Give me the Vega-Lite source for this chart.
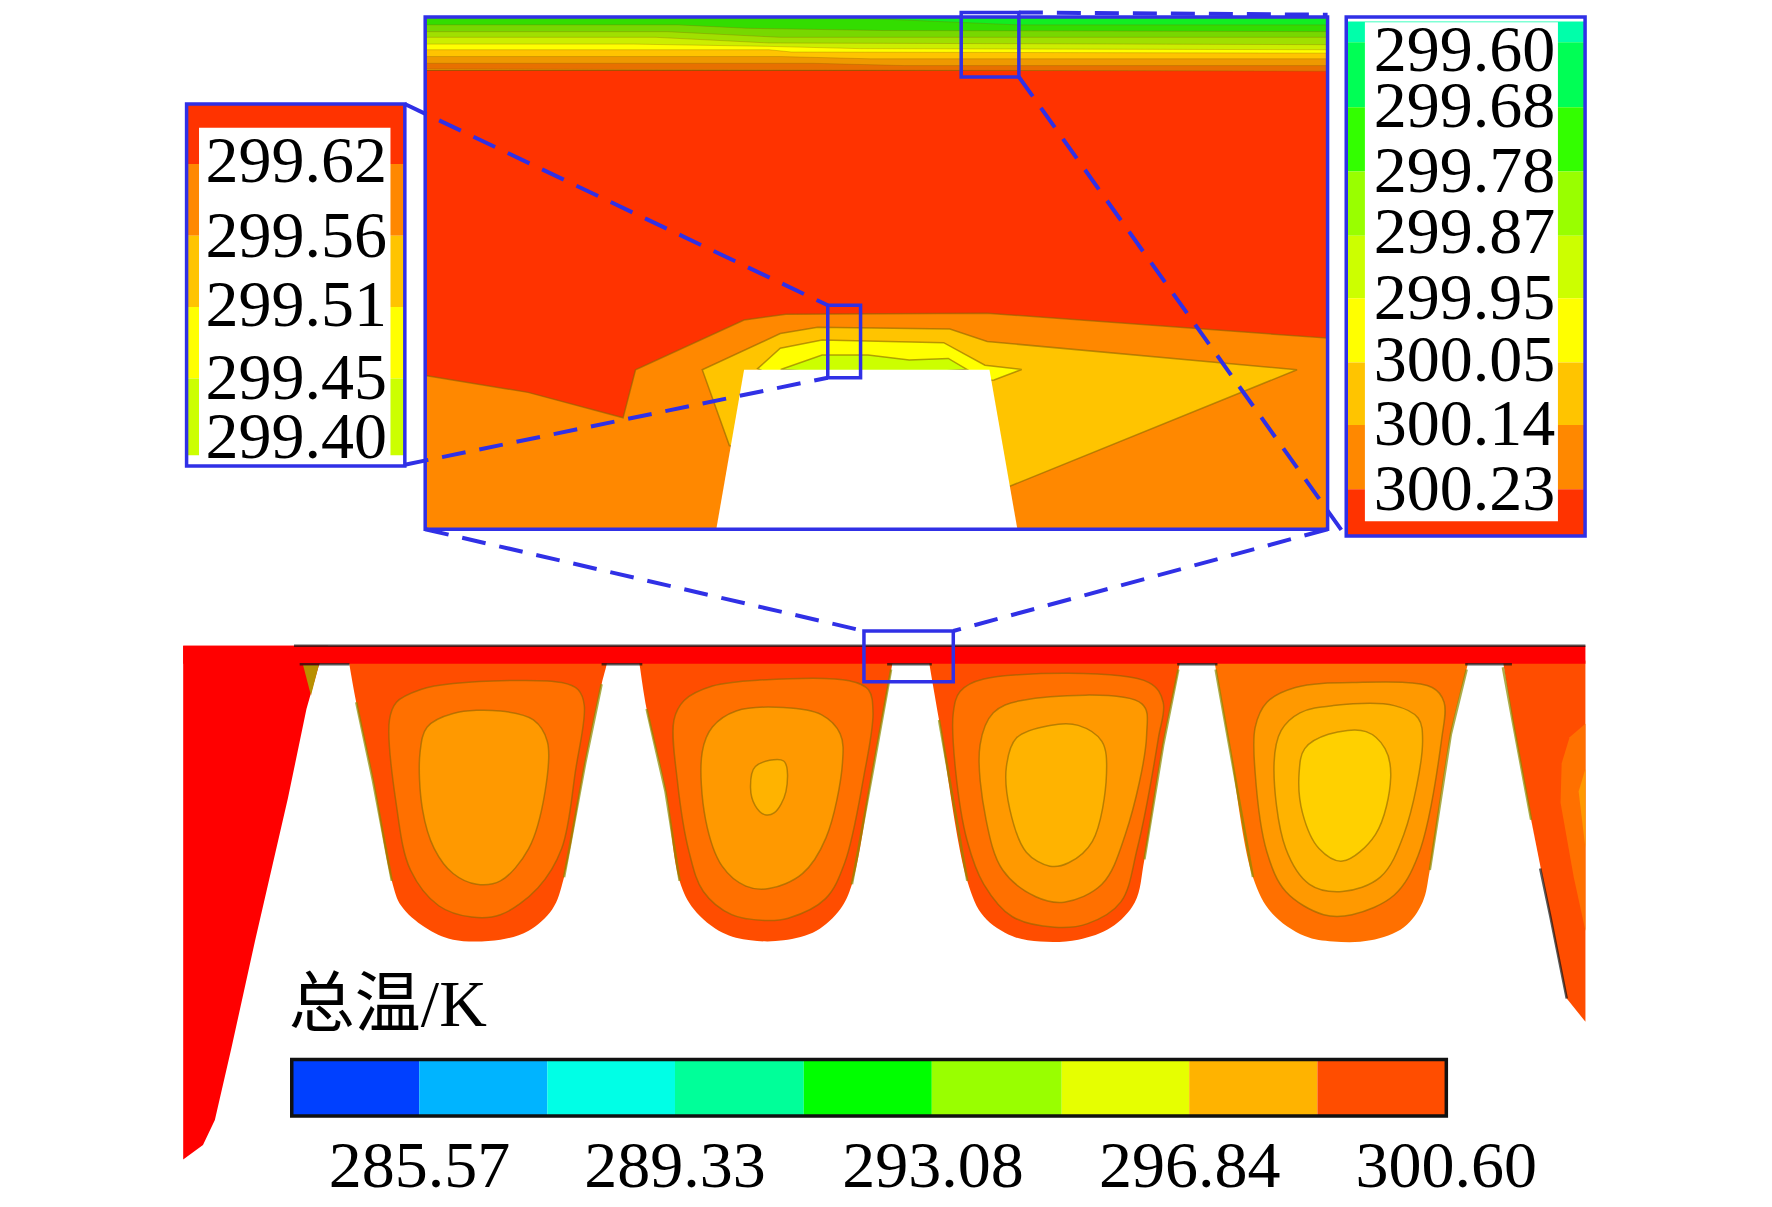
{
"$schema":"https://vega.github.io/schema/vega-lite/v6.json",
"width":1772,"height":1207,"padding":0,
"autosize":{"type":"fit","contains":"padding"},
"background":"white",
"config":{"view":{"stroke":null},"legend":{"disable":true}},
"datasets":{
"blocks":[
{"x":376,"x2":1174,"y":15,"y2":468,"level":"z300.32"},
{"x":165,"x2":358,"y":92,"y2":145,"level":"z300.32"},
{"x":165,"x2":358,"y":145,"y2":208.5,"level":"z300.23"},
{"x":165,"x2":358,"y":208.5,"y2":271.6,"level":"z300.14"},
{"x":165,"x2":358,"y":271.6,"y2":334.8,"level":"z300.05"},
{"x":165,"x2":358,"y":334.8,"y2":402.7,"level":"z299.95"},
{"x":176,"x2":345.3,"y":113,"y2":410.6,"level":"void"},
{"x":1190.5,"x2":1401.7,"y":19,"y2":37.3,"level":"z299.60"},
{"x":1190.5,"x2":1401.7,"y":37.3,"y2":94.8,"level":"z299.68"},
{"x":1190.5,"x2":1401.7,"y":94.8,"y2":151.6,"level":"z299.78"},
{"x":1190.5,"x2":1401.7,"y":151.6,"y2":208.5,"level":"z299.87"},
{"x":1190.5,"x2":1401.7,"y":208.5,"y2":263.7,"level":"z299.95"},
{"x":1190.5,"x2":1401.7,"y":263.7,"y2":320.6,"level":"z300.05"},
{"x":1190.5,"x2":1401.7,"y":320.6,"y2":375.9,"level":"z300.14"},
{"x":1190.5,"x2":1401.7,"y":375.9,"y2":432.7,"level":"z300.23"},
{"x":1190.5,"x2":1401.7,"y":432.7,"y2":474,"level":"z300.32"},
{"x":1207,"x2":1377.7,"y":19.6,"y2":461,"level":"void"},
{"x":258,"x2":370.7,"y":937,"y2":987,"level":"bar1"},
{"x":370.7,"x2":484,"y":937,"y2":987,"level":"bar2"},
{"x":484,"x2":596.9,"y":937,"y2":987,"level":"bar3"},
{"x":596.9,"x2":710.8,"y":937,"y2":987,"level":"bar4"},
{"x":710.8,"x2":824,"y":937,"y2":987,"level":"bar5"},
{"x":824,"x2":938.9,"y":937,"y2":987,"level":"bar6"},
{"x":938.9,"x2":1051.6,"y":937,"y2":987,"level":"bar7"},
{"x":1051.6,"x2":1165,"y":937,"y2":987,"level":"bar8"},
{"x":1165,"x2":1279,"y":937,"y2":987,"level":"bar9"}
],
"strata":[
{"shape":"t1","level":"g1","seq":0,"x":376,"y":16},{"shape":"t1","level":"g1","seq":1,"x":1174,"y":16},{"shape":"t1","level":"g1","seq":2,"x":1174,"y":62},{"shape":"t1","level":"g1","seq":3,"x":376,"y":62},
{"shape":"t0","level":"g0","seq":0,"x":760,"y":16},{"shape":"t0","level":"g0","seq":1,"x":1174,"y":16},{"shape":"t0","level":"g0","seq":2,"x":1174,"y":22},{"shape":"t0","level":"g0","seq":3,"x":900,"y":22},
{"shape":"t2","level":"g2","seq":0,"x":376,"y":22},{"shape":"t2","level":"g2","seq":1,"x":600,"y":22},{"shape":"t2","level":"g2","seq":2,"x":660,"y":25},{"shape":"t2","level":"g2","seq":3,"x":780,"y":27},{"shape":"t2","level":"g2","seq":4,"x":1174,"y":28},{"shape":"t2","level":"g2","seq":5,"x":1174,"y":62},{"shape":"t2","level":"g2","seq":6,"x":376,"y":62},
{"shape":"t3","level":"g3","seq":0,"x":376,"y":28},{"shape":"t3","level":"g3","seq":1,"x":590,"y":28},{"shape":"t3","level":"g3","seq":2,"x":690,"y":33},{"shape":"t3","level":"g3","seq":3,"x":1174,"y":33},{"shape":"t3","level":"g3","seq":4,"x":1174,"y":62},{"shape":"t3","level":"g3","seq":5,"x":376,"y":62},
{"shape":"t4","level":"g4","seq":0,"x":376,"y":33},{"shape":"t4","level":"g4","seq":1,"x":580,"y":33},{"shape":"t4","level":"g4","seq":2,"x":680,"y":38},{"shape":"t4","level":"g4","seq":3,"x":1174,"y":39.5},{"shape":"t4","level":"g4","seq":4,"x":1174,"y":62},{"shape":"t4","level":"g4","seq":5,"x":376,"y":62},
{"shape":"t5","level":"z300.05","seq":0,"x":376,"y":39},{"shape":"t5","level":"z300.05","seq":1,"x":560,"y":39},{"shape":"t5","level":"z300.05","seq":2,"x":680,"y":41},{"shape":"t5","level":"z300.05","seq":3,"x":760,"y":43},{"shape":"t5","level":"z300.05","seq":4,"x":1174,"y":44},{"shape":"t5","level":"z300.05","seq":5,"x":1174,"y":62},{"shape":"t5","level":"z300.05","seq":6,"x":376,"y":62},
{"shape":"t6","level":"z300.14","seq":0,"x":376,"y":44},{"shape":"t6","level":"z300.14","seq":1,"x":680,"y":44},{"shape":"t6","level":"z300.14","seq":2,"x":700,"y":46},{"shape":"t6","level":"z300.14","seq":3,"x":1174,"y":47},{"shape":"t6","level":"z300.14","seq":4,"x":1174,"y":62},{"shape":"t6","level":"z300.14","seq":5,"x":376,"y":62},
{"shape":"t7","level":"g7","seq":0,"x":376,"y":50},{"shape":"t7","level":"g7","seq":1,"x":690,"y":50},{"shape":"t7","level":"g7","seq":2,"x":770,"y":52},{"shape":"t7","level":"g7","seq":3,"x":1174,"y":52},{"shape":"t7","level":"g7","seq":4,"x":1174,"y":62},{"shape":"t7","level":"g7","seq":5,"x":376,"y":62},
{"shape":"t8","level":"g8","seq":0,"x":376,"y":56},{"shape":"t8","level":"g8","seq":1,"x":720,"y":56},{"shape":"t8","level":"g8","seq":2,"x":800,"y":58},{"shape":"t8","level":"g8","seq":3,"x":1174,"y":58},{"shape":"t8","level":"g8","seq":4,"x":1174,"y":63},{"shape":"t8","level":"g8","seq":5,"x":760,"y":62},{"shape":"t8","level":"g8","seq":6,"x":376,"y":61}
],
"contours":[
{"shape":"p1","level":"z300.23","seq":0,"x":376,"y":332},{"shape":"p1","level":"z300.23","seq":1,"x":467,"y":347},{"shape":"p1","level":"z300.23","seq":2,"x":551,"y":369.5},{"shape":"p1","level":"z300.23","seq":3,"x":562,"y":327},{"shape":"p1","level":"z300.23","seq":4,"x":658,"y":283},{"shape":"p1","level":"z300.23","seq":5,"x":695,"y":278},{"shape":"p1","level":"z300.23","seq":6,"x":873,"y":277},{"shape":"p1","level":"z300.23","seq":7,"x":1174,"y":299},{"shape":"p1","level":"z300.23","seq":8,"x":1174,"y":468},{"shape":"p1","level":"z300.23","seq":9,"x":376,"y":468},
{"shape":"p2","level":"z300.14","seq":0,"x":621,"y":327},{"shape":"p2","level":"z300.14","seq":1,"x":690,"y":295},{"shape":"p2","level":"z300.14","seq":2,"x":723,"y":289.5},{"shape":"p2","level":"z300.14","seq":3,"x":840,"y":291},{"shape":"p2","level":"z300.14","seq":4,"x":873,"y":302},{"shape":"p2","level":"z300.14","seq":5,"x":1147,"y":327},{"shape":"p2","level":"z300.14","seq":6,"x":893,"y":430},{"shape":"p2","level":"z300.14","seq":7,"x":780,"y":430},{"shape":"p2","level":"z300.14","seq":8,"x":645,"y":394},
{"shape":"p3","level":"z300.05","seq":0,"x":670,"y":326},{"shape":"p3","level":"z300.05","seq":1,"x":690,"y":308},{"shape":"p3","level":"z300.05","seq":2,"x":727,"y":300.7},{"shape":"p3","level":"z300.05","seq":3,"x":834.5,"y":303},{"shape":"p3","level":"z300.05","seq":4,"x":871,"y":323},{"shape":"p3","level":"z300.05","seq":5,"x":903.5,"y":326.7},{"shape":"p3","level":"z300.05","seq":6,"x":879,"y":336},{"shape":"p3","level":"z300.05","seq":7,"x":700,"y":340},
{"shape":"p4","level":"z299.95","seq":0,"x":690.4,"y":326.7},{"shape":"p4","level":"z299.95","seq":1,"x":727,"y":314},{"shape":"p4","level":"z299.95","seq":2,"x":767.6,"y":314},{"shape":"p4","level":"z299.95","seq":3,"x":804,"y":318.4},{"shape":"p4","level":"z299.95","seq":4,"x":838.6,"y":317},{"shape":"p4","level":"z299.95","seq":5,"x":855,"y":326.7},{"shape":"p4","level":"z299.95","seq":6,"x":770,"y":332}
],
"outlines":[
{"shape":"b1a","level":"hot1","seq":0,"x":307.5,"y":578},{"shape":"b1a","level":"hot1","seq":0.5,"x":309,"y":587.8},{"shape":"b1a","level":"hot1","seq":1,"x":315,"y":621},{"shape":"b1a","level":"hot1","seq":2,"x":329.8,"y":690.4},{"shape":"b1a","level":"hot1","seq":3,"x":346.5,"y":779},{"shape":"b1a","level":"hot1","seq":4,"x":354.8,"y":801},{"shape":"b1a","level":"hot1","seq":5,"x":375.7,"y":820},{"shape":"b1a","level":"hot1","seq":6,"x":400.7,"y":831},{"shape":"b1a","level":"hot1","seq":7,"x":442.5,"y":831},{"shape":"b1a","level":"hot1","seq":8,"x":467.5,"y":823},{"shape":"b1a","level":"hot1","seq":9,"x":488.4,"y":804},{"shape":"b1a","level":"hot1","seq":10,"x":498.8,"y":775.7},{"shape":"b1a","level":"hot1","seq":11,"x":517.6,"y":674.6},{"shape":"b1a","level":"hot1","seq":12,"x":532,"y":605},{"shape":"b1a","level":"hot1","seq":12.5,"x":536.4,"y":587.8},{"shape":"b1a","level":"hot1","seq":13,"x":538,"y":578},{"shape":"b1a","level":"hot1","seq":14,"x":525,"y":578},{"shape":"b1a","level":"hot1","seq":15,"x":320,"y":578},
{"shape":"b2a","level":"hot1","seq":0,"x":564,"y":578},{"shape":"b2a","level":"hot1","seq":0.5,"x":565.6,"y":587.8},{"shape":"b2a","level":"hot1","seq":1,"x":571.8,"y":627},{"shape":"b2a","level":"hot1","seq":2,"x":588.5,"y":700},{"shape":"b2a","level":"hot1","seq":3,"x":601,"y":779},{"shape":"b2a","level":"hot1","seq":4,"x":613.6,"y":804},{"shape":"b2a","level":"hot1","seq":5,"x":638.6,"y":824.7},{"shape":"b2a","level":"hot1","seq":6,"x":663.7,"y":831.6},{"shape":"b2a","level":"hot1","seq":7,"x":692.9,"y":831.6},{"shape":"b2a","level":"hot1","seq":8,"x":722,"y":823},{"shape":"b2a","level":"hot1","seq":9,"x":743,"y":804},{"shape":"b2a","level":"hot1","seq":10,"x":753.4,"y":782},{"shape":"b2a","level":"hot1","seq":11,"x":772,"y":681},{"shape":"b2a","level":"hot1","seq":11.5,"x":788.9,"y":587.8},{"shape":"b2a","level":"hot1","seq":12,"x":790.5,"y":578},{"shape":"b2a","level":"hot1","seq":13,"x":778,"y":578},{"shape":"b2a","level":"hot1","seq":14,"x":576,"y":578},
{"shape":"b3a","level":"hot1","seq":0,"x":820.5,"y":578},{"shape":"b3a","level":"hot1","seq":0.5,"x":822,"y":587.8},{"shape":"b3a","level":"hot1","seq":1,"x":830.4,"y":636.7},{"shape":"b3a","level":"hot1","seq":2,"x":855.4,"y":779},{"shape":"b3a","level":"hot1","seq":3,"x":870,"y":810.5},{"shape":"b3a","level":"hot1","seq":4,"x":895,"y":827.8},{"shape":"b3a","level":"hot1","seq":5,"x":920,"y":832.6},{"shape":"b3a","level":"hot1","seq":6,"x":953.5,"y":831},{"shape":"b3a","level":"hot1","seq":7,"x":982.7,"y":820},{"shape":"b3a","level":"hot1","seq":8,"x":1003.6,"y":797.8},{"shape":"b3a","level":"hot1","seq":9,"x":1012,"y":760},{"shape":"b3a","level":"hot1","seq":10,"x":1028.6,"y":659},{"shape":"b3a","level":"hot1","seq":10.5,"x":1043,"y":587.8},{"shape":"b3a","level":"hot1","seq":11,"x":1044.5,"y":578},{"shape":"b3a","level":"hot1","seq":12,"x":1032,"y":578},{"shape":"b3a","level":"hot1","seq":13,"x":833,"y":578},
{"shape":"b4a","level":"hot2","seq":0,"x":1073,"y":578},{"shape":"b4a","level":"hot2","seq":0.5,"x":1074.5,"y":587.8},{"shape":"b4a","level":"hot2","seq":1,"x":1087,"y":659},{"shape":"b4a","level":"hot2","seq":2,"x":1108,"y":775.7},{"shape":"b4a","level":"hot2","seq":3,"x":1124.6,"y":807.3},{"shape":"b4a","level":"hot2","seq":4,"x":1153.8,"y":827.8},{"shape":"b4a","level":"hot2","seq":5,"x":1179,"y":832.6},{"shape":"b4a","level":"hot2","seq":6,"x":1212,"y":831.6},{"shape":"b4a","level":"hot2","seq":7,"x":1241.5,"y":820},{"shape":"b4a","level":"hot2","seq":8,"x":1258,"y":797.8},{"shape":"b4a","level":"hot2","seq":9,"x":1264.4,"y":769.4},{"shape":"b4a","level":"hot2","seq":10,"x":1283,"y":649.4},{"shape":"b4a","level":"hot2","seq":10.5,"x":1297.8,"y":587.8},{"shape":"b4a","level":"hot2","seq":11,"x":1300,"y":578},{"shape":"b4a","level":"hot2","seq":12,"x":1288,"y":578},{"shape":"b4a","level":"hot2","seq":13,"x":1086,"y":578}
],
"ribbon":[
{"shape":"b5a","level":"hot1","seq":0,"x":1329,"y":584},{"shape":"b5a","level":"hot1","seq":1,"x":1402,"y":584},{"shape":"b5a","level":"hot1","seq":2,"x":1402,"y":903.6},{"shape":"b5a","level":"hot1","seq":3,"x":1385.5,"y":883},{"shape":"b5a","level":"hot1","seq":4,"x":1371,"y":810.5},{"shape":"b5a","level":"hot1","seq":5,"x":1354,"y":725},{"shape":"b5a","level":"hot1","seq":6,"x":1337.5,"y":636.7},
{"shape":"b5b","level":"hot2","seq":0,"x":1402,"y":640},{"shape":"b5b","level":"hot2","seq":1,"x":1388,"y":652},{"shape":"b5b","level":"hot2","seq":2,"x":1381,"y":675},{"shape":"b5b","level":"hot2","seq":3,"x":1380,"y":710},{"shape":"b5b","level":"hot2","seq":4,"x":1391.7,"y":775.7},{"shape":"b5b","level":"hot2","seq":5,"x":1402,"y":823},
{"shape":"b5c","level":"hot3","seq":0,"x":1402,"y":680},{"shape":"b5c","level":"hot3","seq":1,"x":1396,"y":700},{"shape":"b5c","level":"hot3","seq":2,"x":1402,"y":750},
{"shape":"wedge","level":"hot0","seq":0,"x":162,"y":571},{"shape":"wedge","level":"hot0","seq":1,"x":290,"y":571},{"shape":"wedge","level":"hot0","seq":2,"x":281.8,"y":589},{"shape":"wedge","level":"hot0","seq":3,"x":271,"y":627},{"shape":"wedge","level":"hot0","seq":4,"x":254.6,"y":706},{"shape":"wedge","level":"hot0","seq":5,"x":225.4,"y":832.6},{"shape":"wedge","level":"hot0","seq":6,"x":204.6,"y":927},{"shape":"wedge","level":"hot0","seq":7,"x":190,"y":990.5},{"shape":"wedge","level":"hot0","seq":8,"x":179.5,"y":1012.6},{"shape":"wedge","level":"hot0","seq":9,"x":162,"y":1025.3},
{"shape":"band","level":"hot0","seq":0,"x":162,"y":571},{"shape":"band","level":"hot0","seq":1,"x":1402,"y":571},{"shape":"band","level":"hot0","seq":2,"x":1402,"y":587},{"shape":"band","level":"hot0","seq":3,"x":162,"y":587},
{"shape":"tip","level":"tip","seq":0,"x":268,"y":588},{"shape":"tip","level":"tip","seq":1,"x":282,"y":588},{"shape":"tip","level":"tip","seq":2,"x":275,"y":615}
],
"isotherms":[
{"shape":"b1b","level":"hot2","seq":0,"x":344.4,"y":636.7},{"shape":"b1b","level":"hot2","seq":1,"x":350.6,"y":621},{"shape":"b1b","level":"hot2","seq":2,"x":371.5,"y":610},{"shape":"b1b","level":"hot2","seq":3,"x":400.7,"y":604.5},{"shape":"b1b","level":"hot2","seq":4,"x":496.7,"y":603.6},{"shape":"b1b","level":"hot2","seq":5,"x":511.3,"y":610},{"shape":"b1b","level":"hot2","seq":6,"x":516.7,"y":624},{"shape":"b1b","level":"hot2","seq":7,"x":509,"y":681},{"shape":"b1b","level":"hot2","seq":8,"x":496.7,"y":750.4},{"shape":"b1b","level":"hot2","seq":9,"x":475.8,"y":785},{"shape":"b1b","level":"hot2","seq":10,"x":442.5,"y":809},{"shape":"b1b","level":"hot2","seq":11,"x":417,"y":811},{"shape":"b1b","level":"hot2","seq":12,"x":388,"y":801},{"shape":"b1b","level":"hot2","seq":13,"x":363,"y":769.4},{"shape":"b1b","level":"hot2","seq":14,"x":350.6,"y":712.5},
{"shape":"b1c","level":"hot3","seq":0,"x":371.5,"y":665},{"shape":"b1c","level":"hot3","seq":1,"x":377.8,"y":643},{"shape":"b1c","level":"hot3","seq":2,"x":400.7,"y":631},{"shape":"b1c","level":"hot3","seq":3,"x":442.5,"y":628.8},{"shape":"b1c","level":"hot3","seq":4,"x":471.7,"y":636.7},{"shape":"b1c","level":"hot3","seq":5,"x":484,"y":655.7},{"shape":"b1c","level":"hot3","seq":6,"x":482,"y":700},{"shape":"b1c","level":"hot3","seq":7,"x":467.5,"y":750.4},{"shape":"b1c","level":"hot3","seq":8,"x":442.5,"y":779},{"shape":"b1c","level":"hot3","seq":9,"x":421.6,"y":782},{"shape":"b1c","level":"hot3","seq":10,"x":400.7,"y":772.5},{"shape":"b1c","level":"hot3","seq":11,"x":384,"y":750.4},{"shape":"b1c","level":"hot3","seq":12,"x":373.6,"y":715.7},
{"shape":"b2b","level":"hot2","seq":0,"x":596,"y":636.7},{"shape":"b2b","level":"hot2","seq":1,"x":605,"y":619.4},{"shape":"b2b","level":"hot2","seq":2,"x":630,"y":606.7},{"shape":"b2b","level":"hot2","seq":3,"x":672,"y":601.4},{"shape":"b2b","level":"hot2","seq":4,"x":751,"y":602},{"shape":"b2b","level":"hot2","seq":5,"x":768,"y":610},{"shape":"b2b","level":"hot2","seq":6,"x":772,"y":630.4},{"shape":"b2b","level":"hot2","seq":7,"x":763.8,"y":687},{"shape":"b2b","level":"hot2","seq":8,"x":747,"y":763},{"shape":"b2b","level":"hot2","seq":9,"x":730,"y":794.7},{"shape":"b2b","level":"hot2","seq":10,"x":697,"y":812},{"shape":"b2b","level":"hot2","seq":11,"x":676,"y":814},{"shape":"b2b","level":"hot2","seq":12,"x":647,"y":808.9},{"shape":"b2b","level":"hot2","seq":13,"x":622,"y":788.4},{"shape":"b2b","level":"hot2","seq":14,"x":609.4,"y":753.6},{"shape":"b2b","level":"hot2","seq":15,"x":599,"y":690.4},
{"shape":"b2c","level":"hot3","seq":0,"x":621,"y":665},{"shape":"b2c","level":"hot3","seq":1,"x":630,"y":643},{"shape":"b2c","level":"hot3","seq":2,"x":651,"y":628.8},{"shape":"b2c","level":"hot3","seq":3,"x":693,"y":625.7},{"shape":"b2c","level":"hot3","seq":4,"x":726.3,"y":632},{"shape":"b2c","level":"hot3","seq":5,"x":743,"y":649},{"shape":"b2c","level":"hot3","seq":6,"x":745,"y":674.6},{"shape":"b2c","level":"hot3","seq":7,"x":730.4,"y":741},{"shape":"b2c","level":"hot3","seq":8,"x":709.6,"y":772.6},{"shape":"b2c","level":"hot3","seq":9,"x":680,"y":785.8},{"shape":"b2c","level":"hot3","seq":10,"x":659.5,"y":783.6},{"shape":"b2c","level":"hot3","seq":11,"x":638.6,"y":766},{"shape":"b2c","level":"hot3","seq":12,"x":624,"y":725},
{"shape":"b2d","level":"hot4","seq":0,"x":663.7,"y":696.7},{"shape":"b2d","level":"hot4","seq":1,"x":668,"y":677.8},{"shape":"b2d","level":"hot4","seq":2,"x":693,"y":673},{"shape":"b2d","level":"hot4","seq":3,"x":695,"y":700},{"shape":"b2d","level":"hot4","seq":4,"x":684.5,"y":718.9},{"shape":"b2d","level":"hot4","seq":5,"x":676,"y":720.4},{"shape":"b2d","level":"hot4","seq":6,"x":667.8,"y":712.5},
{"shape":"b3b","level":"hot2","seq":0,"x":843,"y":630.4},{"shape":"b3b","level":"hot2","seq":1,"x":849,"y":611.5},{"shape":"b3b","level":"hot2","seq":2,"x":870,"y":600.4},{"shape":"b3b","level":"hot2","seq":3,"x":1016,"y":603.6},{"shape":"b3b","level":"hot2","seq":4,"x":1028.6,"y":621},{"shape":"b3b","level":"hot2","seq":5,"x":1024.4,"y":652.5},{"shape":"b3b","level":"hot2","seq":6,"x":1005.7,"y":750.4},{"shape":"b3b","level":"hot2","seq":7,"x":991,"y":797.8},{"shape":"b3b","level":"hot2","seq":8,"x":961.8,"y":816.8},{"shape":"b3b","level":"hot2","seq":9,"x":932.6,"y":820},{"shape":"b3b","level":"hot2","seq":10,"x":895,"y":810.5},{"shape":"b3b","level":"hot2","seq":11,"x":870,"y":782},{"shape":"b3b","level":"hot2","seq":12,"x":855.4,"y":744},{"shape":"b3b","level":"hot2","seq":13,"x":845,"y":681},
{"shape":"b3c","level":"hot3","seq":0,"x":866.7,"y":658.8},{"shape":"b3c","level":"hot3","seq":1,"x":878.4,"y":630.4},{"shape":"b3c","level":"hot3","seq":2,"x":903.4,"y":619.4},{"shape":"b3c","level":"hot3","seq":3,"x":1009.8,"y":622.5},{"shape":"b3c","level":"hot3","seq":4,"x":1014,"y":649.4},{"shape":"b3c","level":"hot3","seq":5,"x":995.2,"y":737.8},{"shape":"b3c","level":"hot3","seq":6,"x":974.4,"y":782},{"shape":"b3c","level":"hot3","seq":7,"x":941,"y":797.8},{"shape":"b3c","level":"hot3","seq":8,"x":916,"y":793},{"shape":"b3c","level":"hot3","seq":9,"x":886.7,"y":769.4},{"shape":"b3c","level":"hot3","seq":10,"x":872,"y":725},
{"shape":"b3d","level":"hot4","seq":0,"x":890,"y":677.8},{"shape":"b3d","level":"hot4","seq":1,"x":899,"y":652.5},{"shape":"b3d","level":"hot4","seq":2,"x":928.5,"y":641.5},{"shape":"b3d","level":"hot4","seq":3,"x":953.5,"y":641.5},{"shape":"b3d","level":"hot4","seq":4,"x":974.4,"y":655.7},{"shape":"b3d","level":"hot4","seq":5,"x":978.5,"y":684},{"shape":"b3d","level":"hot4","seq":6,"x":966,"y":744},{"shape":"b3d","level":"hot4","seq":7,"x":945,"y":763},{"shape":"b3d","level":"hot4","seq":8,"x":928.5,"y":766},{"shape":"b3d","level":"hot4","seq":9,"x":907.6,"y":753.6},{"shape":"b3d","level":"hot4","seq":10,"x":893,"y":715.7},
{"shape":"b4b","level":"hot3","seq":0,"x":1110,"y":643},{"shape":"b4b","level":"hot3","seq":1,"x":1120.4,"y":621},{"shape":"b4b","level":"hot3","seq":2,"x":1145.5,"y":608},{"shape":"b4b","level":"hot3","seq":3,"x":1195.6,"y":603.6},{"shape":"b4b","level":"hot3","seq":4,"x":1266.5,"y":608},{"shape":"b4b","level":"hot3","seq":5,"x":1277,"y":621},{"shape":"b4b","level":"hot3","seq":6,"x":1275,"y":652.5},{"shape":"b4b","level":"hot3","seq":7,"x":1254,"y":756.8},{"shape":"b4b","level":"hot3","seq":8,"x":1233,"y":791.5},{"shape":"b4b","level":"hot3","seq":9,"x":1195.6,"y":808.9},{"shape":"b4b","level":"hot3","seq":10,"x":1170.5,"y":808.9},{"shape":"b4b","level":"hot3","seq":11,"x":1137,"y":788.4},{"shape":"b4b","level":"hot3","seq":12,"x":1120.4,"y":753.6},{"shape":"b4b","level":"hot3","seq":13,"x":1110,"y":684},
{"shape":"b4c","level":"hot4","seq":0,"x":1126.7,"y":674.6},{"shape":"b4c","level":"hot4","seq":1,"x":1133,"y":646},{"shape":"b4c","level":"hot4","seq":2,"x":1149.6,"y":630.4},{"shape":"b4c","level":"hot4","seq":3,"x":1179,"y":624},{"shape":"b4c","level":"hot4","seq":4,"x":1233,"y":624},{"shape":"b4c","level":"hot4","seq":5,"x":1254,"y":635},{"shape":"b4c","level":"hot4","seq":6,"x":1258,"y":655.7},{"shape":"b4c","level":"hot4","seq":7,"x":1241.5,"y":737.8},{"shape":"b4c","level":"hot4","seq":8,"x":1220.6,"y":775.7},{"shape":"b4c","level":"hot4","seq":9,"x":1187,"y":788.4},{"shape":"b4c","level":"hot4","seq":10,"x":1158,"y":782},{"shape":"b4c","level":"hot4","seq":11,"x":1137,"y":750.4},
{"shape":"b4d","level":"hot5","seq":0,"x":1148.8,"y":684},{"shape":"b4d","level":"hot5","seq":1,"x":1153.8,"y":662},{"shape":"b4d","level":"hot5","seq":2,"x":1174.7,"y":649.4},{"shape":"b4d","level":"hot5","seq":3,"x":1208,"y":647},{"shape":"b4d","level":"hot5","seq":4,"x":1224.8,"y":662},{"shape":"b4d","level":"hot5","seq":5,"x":1229.8,"y":687.3},{"shape":"b4d","level":"hot5","seq":6,"x":1216.4,"y":737.8},{"shape":"b4d","level":"hot5","seq":7,"x":1187,"y":761.5},{"shape":"b4d","level":"hot5","seq":8,"x":1166.4,"y":750.4},{"shape":"b4d","level":"hot5","seq":9,"x":1151.8,"y":718.9}
],
"mask":[
{"shape":"slot","level":"void","seq":0,"x":658,"y":327},{"shape":"slot","level":"void","seq":1,"x":875,"y":327},{"shape":"slot","level":"void","seq":2,"x":899.5,"y":467},{"shape":"slot","level":"void","seq":3,"x":633.6,"y":467}
],
"edges":[
{"edge":"top","tone":"black","seq":0,"x":260,"y":571},{"edge":"top","tone":"black","seq":1,"x":1402,"y":571},
{"edge":"s1","tone":"black","seq":0,"x":265,"y":587.5},{"edge":"s1","tone":"black","seq":1,"x":309,"y":587.5},
{"edge":"s2","tone":"black","seq":0,"x":532,"y":587.5},{"edge":"s2","tone":"black","seq":1,"x":568,"y":587.5},
{"edge":"s3","tone":"black","seq":0,"x":784.5,"y":587.5},{"edge":"s3","tone":"black","seq":1,"x":824,"y":587.5},
{"edge":"s4","tone":"black","seq":0,"x":1041,"y":587.5},{"edge":"s4","tone":"black","seq":1,"x":1076.6,"y":587.5},
{"edge":"s5","tone":"black","seq":0,"x":1295.7,"y":587.5},{"edge":"s5","tone":"black","seq":1,"x":1337,"y":587.5},
{"edge":"b5k","tone":"black","seq":0,"x":1362,"y":768},{"edge":"b5k","tone":"black","seq":1,"x":1371,"y":810.5},{"edge":"b5k","tone":"black","seq":2,"x":1385.5,"y":883},
{"edge":"o1","tone":"olive","seq":0,"x":315,"y":621},{"edge":"o1","tone":"olive","seq":1,"x":329.8,"y":690.4},{"edge":"o1","tone":"olive","seq":2,"x":346.5,"y":779},
{"edge":"o2","tone":"olive","seq":0,"x":532,"y":605},{"edge":"o2","tone":"olive","seq":1,"x":517.6,"y":674.6},{"edge":"o2","tone":"olive","seq":2,"x":498.8,"y":775.7},
{"edge":"o3","tone":"olive","seq":0,"x":571.8,"y":627},{"edge":"o3","tone":"olive","seq":1,"x":588.5,"y":700},{"edge":"o3","tone":"olive","seq":2,"x":601,"y":779},
{"edge":"o4","tone":"olive","seq":0,"x":788,"y":592},{"edge":"o4","tone":"olive","seq":1,"x":772,"y":681},{"edge":"o4","tone":"olive","seq":2,"x":753.4,"y":782},
{"edge":"o5","tone":"olive","seq":0,"x":830.4,"y":636.7},{"edge":"o5","tone":"olive","seq":1,"x":855.4,"y":779},
{"edge":"o6","tone":"olive","seq":0,"x":1042,"y":592},{"edge":"o6","tone":"olive","seq":1,"x":1028.6,"y":659},{"edge":"o6","tone":"olive","seq":2,"x":1012,"y":760},
{"edge":"o7","tone":"olive","seq":0,"x":1075,"y":592},{"edge":"o7","tone":"olive","seq":1,"x":1087,"y":659},{"edge":"o7","tone":"olive","seq":2,"x":1108,"y":775.7},
{"edge":"o8","tone":"olive","seq":0,"x":1297,"y":592},{"edge":"o8","tone":"olive","seq":1,"x":1283,"y":649.4},{"edge":"o8","tone":"olive","seq":2,"x":1264.4,"y":769.4},
{"edge":"o9","tone":"olive","seq":0,"x":1329,"y":590},{"edge":"o9","tone":"olive","seq":1,"x":1337.5,"y":636.7},{"edge":"o9","tone":"olive","seq":2,"x":1354,"y":725}
],
"frames":[
{"x":376,"x2":1174,"y":15,"y2":468,"tone":"blue"},
{"x":165,"x2":358,"y":92,"y2":412,"tone":"blue"},
{"x":1190.5,"x2":1401.7,"y":15,"y2":474,"tone":"blue"},
{"x":732,"x2":761,"y":270,"y2":334,"tone":"blue"},
{"x":850,"x2":901,"y":11,"y2":68,"tone":"blue"},
{"x":764,"x2":843,"y":558,"y2":603,"tone":"blue"},
{"x":258,"x2":1279,"y":937,"y2":987,"tone":"black"}
],
"leaders":[
{"leader":"a","seq":0,"x":358,"y":92},{"leader":"a","seq":1,"x":732,"y":270},
{"leader":"b","seq":0,"x":358,"y":411},{"leader":"b","seq":1,"x":732,"y":334},
{"leader":"c","seq":0,"x":901,"y":68},{"leader":"c","seq":1,"x":1190,"y":474},
{"leader":"d","seq":0,"x":901,"y":11},{"leader":"d","seq":1,"x":1174,"y":13},
{"leader":"e","seq":0,"x":376,"y":468},{"leader":"e","seq":1,"x":764,"y":558},
{"leader":"f","seq":0,"x":1174,"y":468},{"leader":"f","seq":1,"x":843,"y":558}
],
"labels":[
{"x":262,"y":143,"label":"299.62"},{"x":262,"y":210,"label":"299.56"},{"x":262,"y":271,"label":"299.51"},{"x":262,"y":335,"label":"299.45"},{"x":262,"y":387,"label":"299.40"},
{"x":1295,"y":45,"label":"299.60"},{"x":1295,"y":95,"label":"299.68"},{"x":1295,"y":152,"label":"299.78"},{"x":1295,"y":206,"label":"299.87"},{"x":1295,"y":264,"label":"299.95"},{"x":1295,"y":319,"label":"300.05"},{"x":1295,"y":376,"label":"300.14"},{"x":1295,"y":433,"label":"300.23"},
{"x":371,"y":1032,"label":"285.57"},{"x":597,"y":1032,"label":"289.33"},{"x":825,"y":1032,"label":"293.08"},{"x":1052,"y":1032,"label":"296.84"},{"x":1279,"y":1032,"label":"300.60"},
{"x":343,"y":890,"label":"总温/K"}
]
},
"encoding":{
"x":{"field":"x","type":"quantitative","axis":null,"scale":{"domain":[0,1567],"nice":false,"zero":false}},
"y":{"field":"y","type":"quantitative","axis":null,"scale":{"domain":[1067.4,0],"nice":false,"zero":false}}
},
"layer":[
{"data":{"name":"blocks"},"mark":{"type":"rect"},
"encoding":{"x2":{"field":"x2"},"y2":{"field":"y2"},
"fill":{"field":"level","type":"nominal","scale":{
"domain":["void","z299.60","z299.68","z299.78","z299.87","z299.95","z300.05","z300.14","z300.23","z300.32","g0","g1","g2","g3","g4","g7","g8","hot0","hot1","hot2","hot3","hot4","hot5","tip","bar1","bar2","bar3","bar4","bar5","bar6","bar7","bar8","bar9"],
"range":["#ffffff","#00ffaa","#00ff55","#33ff00","#99ff00","#ccff00","#ffff00","#ffc400","#ff8800","#ff3300","#11ee22","#33dd00","#77d800","#a0e000","#ccee00","#ee9900","#e87000","#ff0000","#ff4d00","#ff7000","#ff9900","#ffb300","#ffd000","#b89000","#0040ff","#00b4ff","#00ffe6","#00ff99","#00ff00","#99ff00","#e6ff00","#ffb300","#ff4d00"]}}}},
{"data":{"name":"strata"},"mark":{"type":"line","interpolate":"linear-closed","stroke":"#8a6400","strokeWidth":1,"strokeOpacity":0.3},
"encoding":{"detail":{"field":"shape"},"order":{"field":"seq"},"fill":{"field":"level","type":"nominal"}}},
{"data":{"name":"contours"},"mark":{"type":"line","interpolate":"linear-closed","stroke":"#8a6400","strokeWidth":1.5,"strokeOpacity":0.6},
"encoding":{"detail":{"field":"shape"},"order":{"field":"seq"},"fill":{"field":"level","type":"nominal"}}},
{"data":{"name":"outlines"},"mark":{"type":"line","interpolate":"catmull-rom-closed","strokeOpacity":0},
"encoding":{"detail":{"field":"shape"},"order":{"field":"seq"},"fill":{"field":"level","type":"nominal"}}},
{"data":{"name":"ribbon"},"mark":{"type":"line","interpolate":"linear-closed","strokeOpacity":0},
"encoding":{"detail":{"field":"shape"},"order":{"field":"seq"},"fill":{"field":"level","type":"nominal"}}},
{"data":{"name":"isotherms"},"mark":{"type":"line","interpolate":"catmull-rom-closed","stroke":"#8a6400","strokeWidth":1.5,"strokeOpacity":0.6},
"encoding":{"detail":{"field":"shape"},"order":{"field":"seq"},"fill":{"field":"level","type":"nominal"}}},
{"data":{"name":"mask"},"mark":{"type":"line","interpolate":"linear-closed","strokeOpacity":0},
"encoding":{"detail":{"field":"shape"},"order":{"field":"seq"},"fill":{"field":"level","type":"nominal"}}},
{"data":{"name":"edges"},"mark":{"type":"line","strokeWidth":2.5,"strokeOpacity":0.7},
"encoding":{"detail":{"field":"edge"},"order":{"field":"seq"},"stroke":{"field":"tone","type":"nominal","scale":{"domain":["blue","black","olive"],"range":["#3030e6","#111111","#8a8a00"]}}}},
{"data":{"name":"frames"},"mark":{"type":"rect","fillOpacity":0,"strokeWidth":3.5},
"encoding":{"x2":{"field":"x2"},"y2":{"field":"y2"},"stroke":{"field":"tone","type":"nominal"}}},
{"data":{"name":"leaders"},"mark":{"type":"line","stroke":"#3030e6","strokeWidth":4,"strokeDash":[24,14]},
"encoding":{"detail":{"field":"leader"},"order":{"field":"seq"}}},
{"data":{"name":"labels"},"mark":{"type":"text","font":"Liberation Serif, Noto Sans CJK SC","fontSize":66,"align":"center","baseline":"middle","color":"#000000"},
"encoding":{"text":{"field":"label"}}}
]
}
